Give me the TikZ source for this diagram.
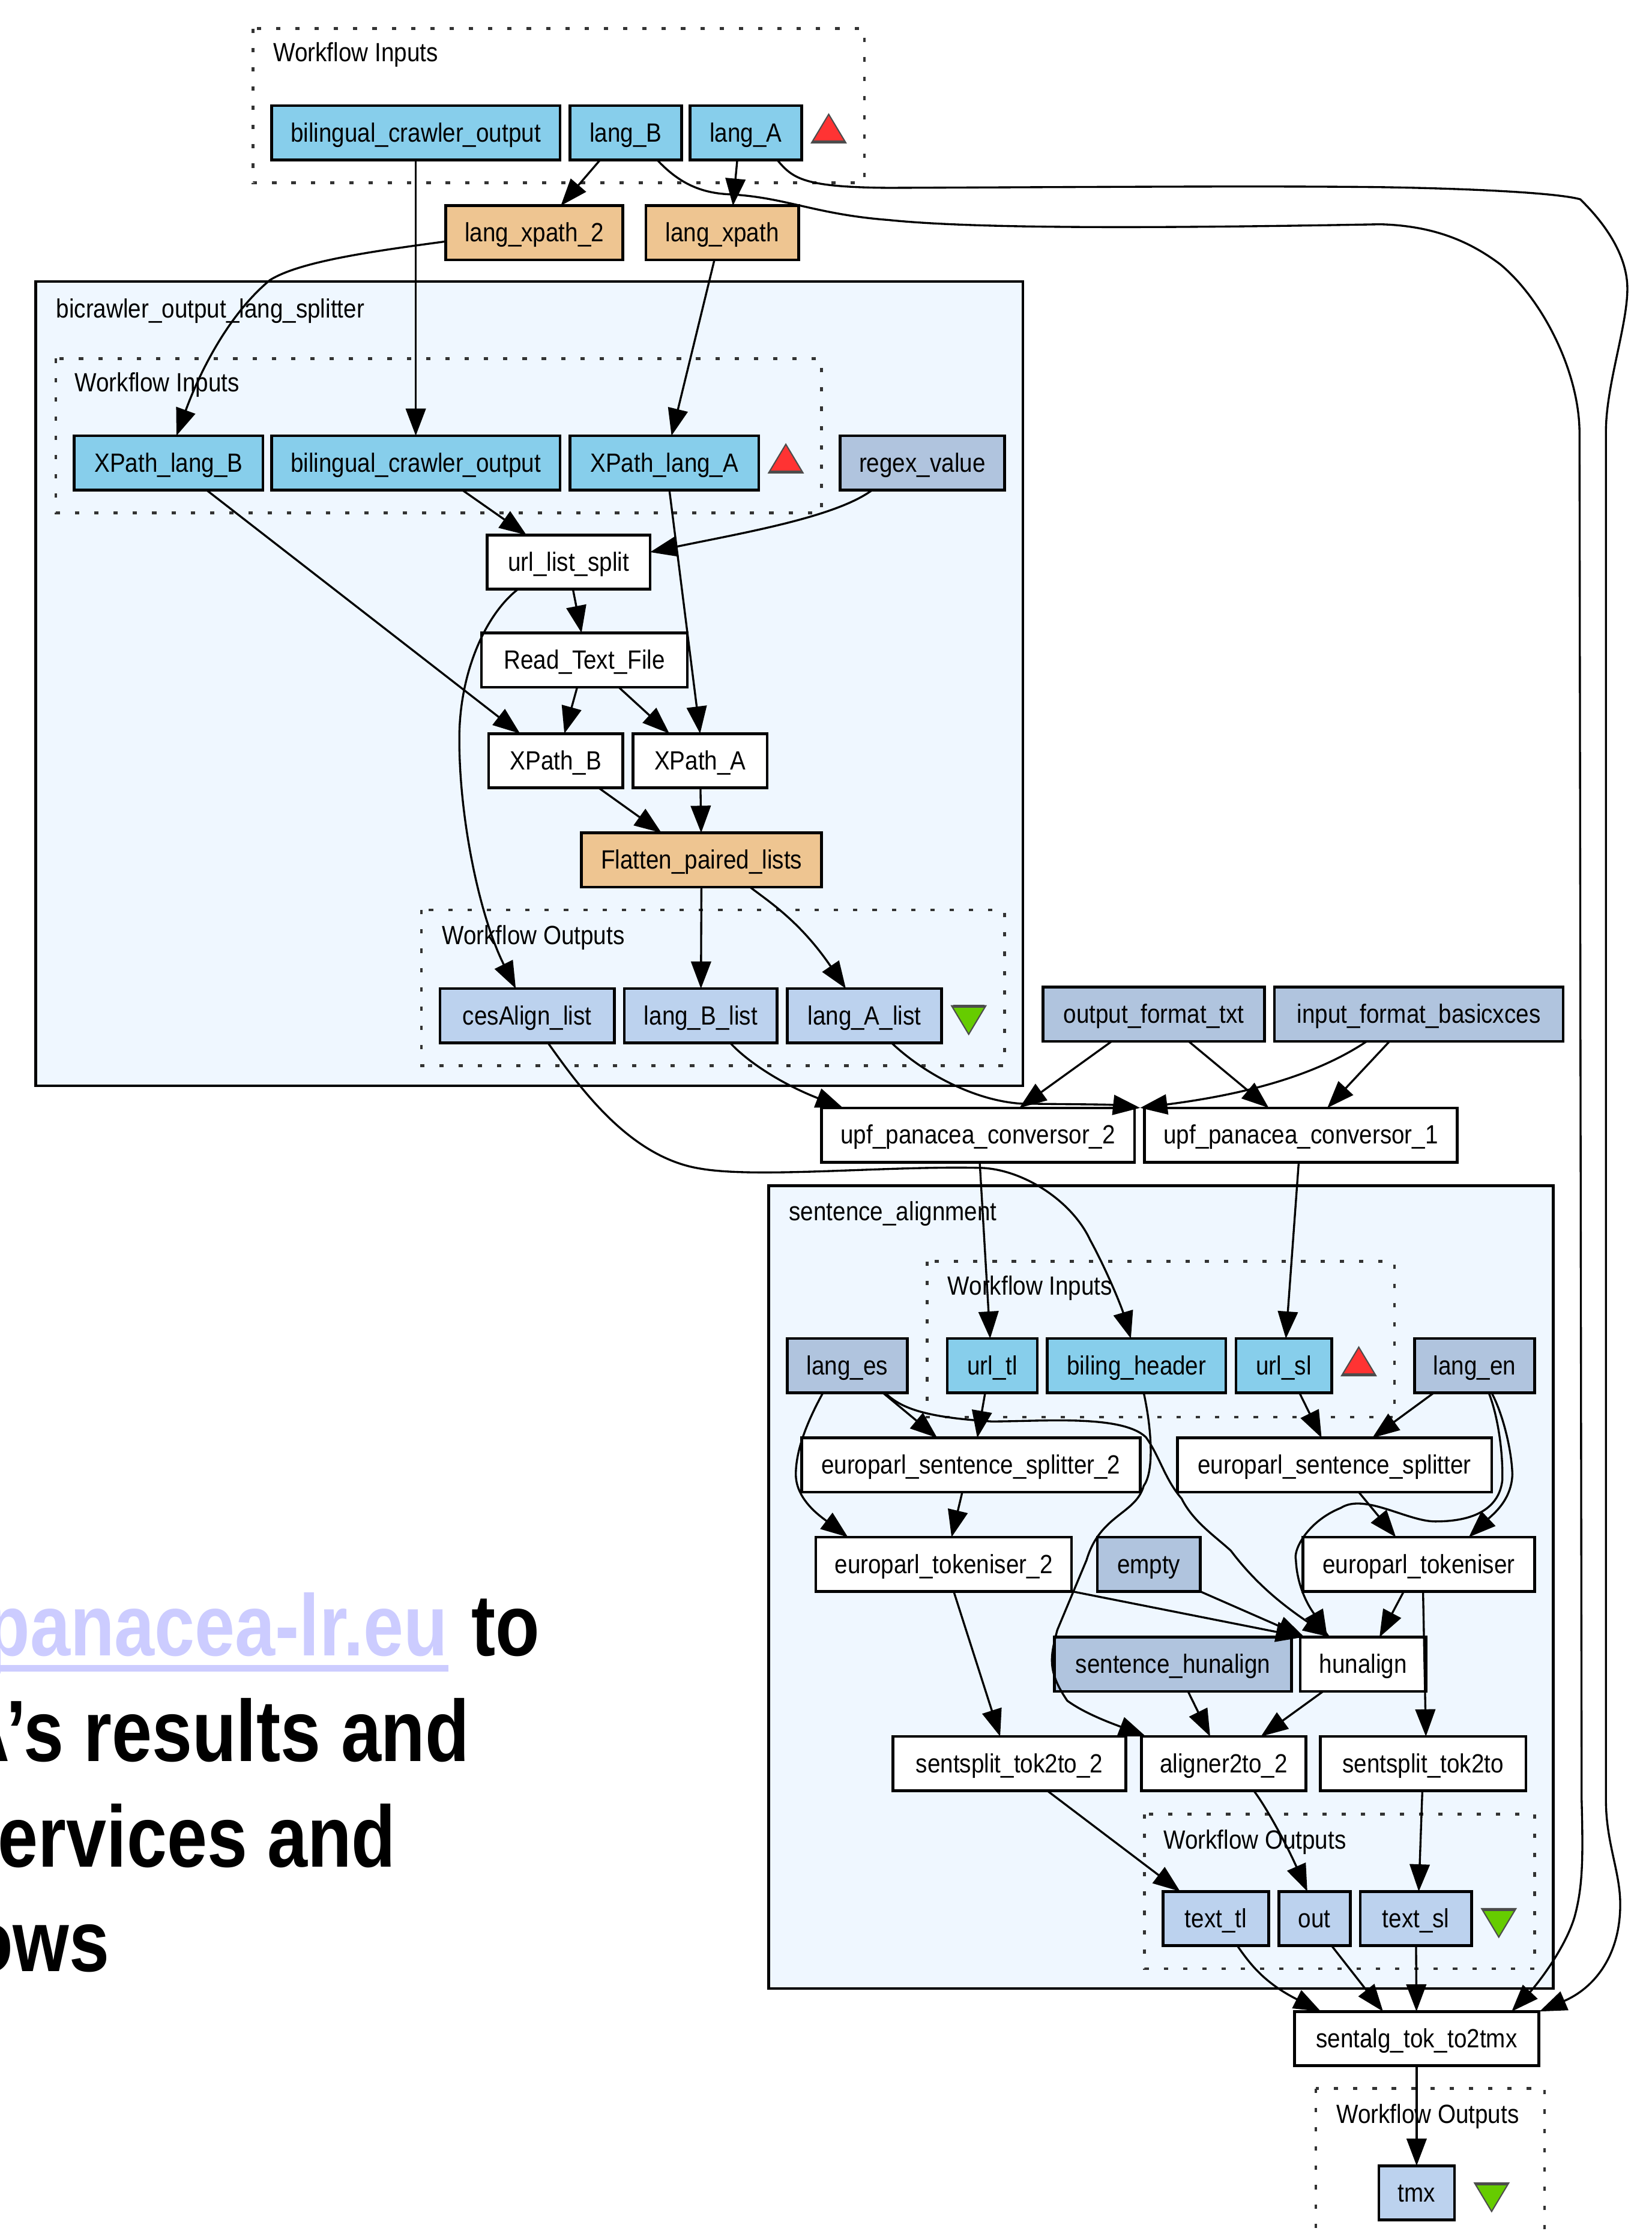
\documentclass[tikz,border=0pt]{standalone}
\usepackage{fontspec}
\usetikzlibrary{arrows.meta}
\newfontfamily\dotfont[FakeStretch=0.88]{Liberation Sans}
\newfontfamily\slidefont[FakeStretch=0.83]{Liberation Sans}
\definecolor{skyfill}{HTML}{87CEEB}
\definecolor{outfill}{HTML}{BCD2EE}
\definecolor{constfill}{HTML}{B0C4DE}
\definecolor{shimfill}{HTML}{EEC591}
\definecolor{wffill}{HTML}{EFF7FF}
\definecolor{linkblue}{HTML}{CCCCFF}
\definecolor{redport}{HTML}{FF3333}
\definecolor{greenport}{HTML}{66CC00}
\tikzset{
	wide/.style={minimum width=#1*0.02cm},
	dx/.style={xshift=#1*0.02cm},
	box/.style={draw=black,line width=1.1pt,minimum height=0.76cm,inner sep=0pt,outer sep=0pt,
		font=\dotfont\fontsize{10.5}{12}\selectfont,text height=0.29cm,text depth=0.04cm},
	indata/.style={box,fill=skyfill},
	outdata/.style={box,fill=outfill},
	constant/.style={box,fill=constfill},
	proc/.style={box,fill=white},
	shim/.style={box,fill=shimfill},
	wfcluster/.style={draw=black,line width=1.1pt,fill=wffill},
	portcluster/.style={draw=black!80,line width=1.1pt,dash pattern=on 0.06cm off 0.21cm},
	clabel/.style={anchor=west,inner sep=0pt,yshift=-0.03cm,font=\dotfont\fontsize{10.5}{12}\selectfont},
	slide/.style={inner sep=0pt,font=\slidefont\bfseries\fontsize{34.7}{40}\selectfont},
	flow/.style={line width=0.8pt,-{Triangle[length=0.38cm,width=0.28cm]}},
	inports/.pic={
		\fill[redport] (-12,10) -- (12,10) -- (0,-10) -- cycle;
		\draw[black!70,line width=0.5pt] (-12,10) -- (12,10) -- (0,-10) -- cycle;
		\draw[black!70,line width=1.2pt] (-11,9.5) -- (11,9.5);
	},
	outports/.pic={
		\fill[greenport] (-12,-10) -- (12,-10) -- (0,10) -- cycle;
		\draw[black!70,line width=0.5pt] (-12,-10) -- (12,-10) -- (0,10) -- cycle;
		\draw[black!70,line width=1.2pt] (-11,-9.5) -- (11,-9.5);
	},
}
\begin{document}
\begin{tikzpicture}[x=0.02cm,y=-0.02cm]
	\useasboundingbox (0,0) rectangle (1156,1568);
	% clusters
	\draw[portcluster] (177,20) rectangle (605,128);
	\draw[wfcluster] (25,197) rectangle (716,760);
	\draw[portcluster] (39,251) rectangle (575,359);
	\draw[portcluster] (295,637) rectangle (703,746);
	\draw[wfcluster] (538,830) rectangle (1087,1392);
	\draw[portcluster] (649,883) rectangle (976,992);
	\draw[portcluster] (801,1270) rectangle (1074,1378);
	\draw[portcluster] (921,1462) rectangle (1081,1600);
	\node[clabel] (top_in_label) at (191,37) {Workflow Inputs};
	\node[clabel] (split_label) at (39,216) {bicrawler\_output\_lang\_splitter};
	\node[clabel] (split_in_label) at (52,268) {Workflow Inputs};
	\node[clabel] (split_out_label) at (309,655) {Workflow Outputs};
	\node[clabel] (align_label) at (552,848) {sentence\_alignment};
	\node[clabel] (align_in_label) at (663,900) {Workflow Inputs};
	\node[clabel] (align_out_label) at (814,1288) {Workflow Outputs};
	\node[clabel] (top_out_label) at (935,1480) {Workflow Outputs};
	% workflow top
	\node[indata,wide=202] (top_bilingual) at (291,93) {bilingual\_crawler\_output};
	\node[indata,wide=78] (lang_B) at (438,93) {lang\_B};
	\node[indata,wide=78] (lang_A) at (522,93) {lang\_A};
	\node[shim,wide=124] (lang_xpath_2) at (374,163) {lang\_xpath\_2};
	\node[shim,wide=107] (lang_xpath) at (505.5,163) {lang\_xpath};
	% bicrawler_output_lang_splitter
	\node[indata,wide=132] (xpath_lang_B) at (118,324) {XPath\_lang\_B};
	\node[indata,wide=202] (split_bilingual) at (291,324) {bilingual\_crawler\_output};
	\node[indata,wide=132] (xpath_lang_A) at (465,324) {XPath\_lang\_A};
	\node[constant,wide=115] (regex_value) at (645.5,324) {regex\_value};
	\node[proc,wide=114] (url_list_split) at (398,393.5) {url\_list\_split};
	\node[proc,wide=144] (read_text) at (409,462) {Read\_Text\_File};
	\node[proc,wide=94] (xpath_B) at (389,532.5) {XPath\_B};
	\node[proc,wide=94] (xpath_A) at (490,532.5) {XPath\_A};
	\node[shim,wide=168] (flatten) at (491,602) {Flatten\_paired\_lists};
	\node[outdata,wide=122] (cesalign) at (369,711) {cesAlign\_list};
	\node[outdata,wide=107] (lang_B_list) at (490.5,711) {lang\_B\_list};
	\node[outdata,wide=108] (lang_A_list) at (605,711) {lang\_A\_list};
	% conversors
	\node[constant,wide=155] (output_format) at (807.5,710) {output\_format\_txt};
	\node[constant,wide=202] (input_format) at (993,710) {input\_format\_basicxces};
	\node[proc,wide=219] (conversor_2) at (684.5,794.5) {upf\_panacea\_conversor\_2};
	\node[proc,wide=219] (conversor_1) at (910.5,794.5) {upf\_panacea\_conversor\_1};
	% sentence_alignment
	\node[constant,wide=84] (lang_es) at (593,956) {lang\_es};
	\node[indata,wide=63] (url_tl) at (694.5,956) {url\_tl};
	\node[indata,wide=125] (biling_header) at (795.5,956) {biling\_header};
	\node[indata,wide=67] (url_sl) at (898.5,956) {url\_sl};
	\node[constant,wide=84] (lang_en) at (1032,956) {lang\_en};
	\node[proc,wide=237] (splitter_2) at (679.5,1025.5) {europarl\_sentence\_splitter\_2};
	\node[proc,wide=220] (splitter) at (934,1025.5) {europarl\_sentence\_splitter};
	\node[proc,wide=179] (tokeniser_2) at (660.5,1095) {europarl\_tokeniser\_2};
	\node[constant,wide=72] (empty) at (804,1095) {empty};
	\node[proc,wide=162] (tokeniser) at (993,1095) {europarl\_tokeniser};
	\node[constant,wide=166] (sentence_hunalign) at (821,1165) {sentence\_hunalign};
	\node[proc,wide=88] (hunalign) at (954,1165) {hunalign};
	\node[proc,wide=163] (sentsplit_2) at (706.5,1234.5) {sentsplit\_tok2to\_2};
	\node[proc,wide=115] (aligner) at (856.5,1234.5) {aligner2to\_2};
	\node[proc,wide=144] (sentsplit) at (996,1234.5) {sentsplit\_tok2to};
	\node[outdata,wide=74] (text_tl) at (851,1343) {text\_tl};
	\node[outdata,wide=50] (out) at (920,1343) {out};
	\node[outdata,wide=78] (text_sl) at (991,1343) {text\_sl};
	% workflow bottom
	\node[proc,wide=171] (sentalg) at (991.5,1427) {sentalg\_tok\_to2tmx};
	\node[outdata,wide=53] (tmx) at (991.5,1535) {tmx};
	% port triangles
	\pic at (580,90) {inports};
	\pic at (550,321) {inports};
	\pic at (951,953) {inports};
	\pic at (678,714) {outports};
	\pic at (1049,1346) {outports};
	\pic at (1044,1538) {outports};
	% links top
	\draw[flow] (top_bilingual) -- (split_bilingual);
	\draw[flow] ([dx=-18]lang_B.south) -- ([dx=18.5]lang_xpath_2.north);
	\draw[flow] ([dx=-6]lang_A.south) -- ([dx=7.5]lang_xpath.north);
	\draw[flow] ([dx=22]lang_B.south) .. controls (475,128) and (490,135) .. (510,136)
		.. controls (550,138) and (570,150) .. (622,154) .. controls (680,160) and (800,160) .. (966,157)
		.. controls (1005,158) and (1030,170) .. (1050,185) .. controls (1080,210) and (1105,260) .. (1105.5,302)
		-- (1107,1260) .. controls (1108,1300) and (1108,1320) .. (1102,1342)
		.. controls (1095,1365) and (1075,1390) .. ([dx=66.5]sentalg.north);
	\draw[flow] ([dx=22]lang_A.south) .. controls (555,125) and (562,131) .. (622,131.5)
		.. controls (750,131) and (880,130) .. (966,131) .. controls (1030,132) and (1090,135) .. (1106,139.5)
		.. controls (1125,158) and (1139,180) .. (1139,202) .. controls (1139,228) and (1124,270) .. (1124,302)
		-- (1124,1260) .. controls (1124,1290) and (1134,1310) .. (1134,1333)
		.. controls (1134,1370) and (1115,1392) .. ([dx=86]sentalg.north);
	\draw[flow] ([yshift=-0.12cm]lang_xpath_2.west) .. controls (260,176) and (210,183) .. (189,196)
		.. controls (160,220) and (140,260) .. ([dx=5.5]xpath_lang_B.north);
	\draw[flow] ([dx=-5.5]lang_xpath.south) -- ([dx=5]xpath_lang_A.north);
	% links bicrawler_output_lang_splitter
	\draw[flow] ([dx=26.5]xpath_lang_B.south) -- ([dx=-25]xpath_B.north);
	\draw[flow] ([dx=32.5]split_bilingual.south) -- ([dx=-29.5]url_list_split.north);
	\draw[flow] ([dx=3.5]xpath_lang_A.south) -- (xpath_A.north);
	\draw[flow] ([dx=-35]regex_value.south) .. controls (585,362) and (520,373) .. ([yshift=0.14cm]url_list_split.east);
	\draw[flow] ([dx=3]url_list_split.south) -- ([dx=-2]read_text.north);
	\draw[flow] ([dx=-35.5]url_list_split.south) .. controls (340,430) and (322,470) .. (321.5,515)
		.. controls (321,570) and (335,640) .. ([dx=-8]cesalign.north);
	\draw[flow] ([dx=-5]read_text.south) -- ([dx=6]xpath_B.north);
	\draw[flow] ([dx=24]read_text.south) -- ([dx=-21.5]xpath_A.north);
	\draw[flow] ([dx=30]xpath_B.south) -- ([dx=-28]flatten.north);
	\draw[flow] (xpath_A) -- (flatten);
	\draw[flow] (flatten) -- (lang_B_list);
	\draw[flow] ([dx=34]flatten.south) .. controls (538,631) and (560,645) .. ([dx=-13]lang_A_list.north);
	% links to conversors
	\draw[flow] ([dx=20.5]lang_B_list.south) .. controls (525,745) and (550,760) .. ([dx=-94.5]conversor_2.north);
	\draw[flow] ([dx=19]lang_A_list.south) .. controls (645,750) and (680,770) .. (714,772.5)
		.. controls (745,773) and (775,773) .. ([dx=-112.5]conversor_1.north);
	\draw[flow] ([dx=-36.5]input_format.south) .. controls (925,750) and (880,765) .. ([dx=113.5]conversor_2.north);
	\draw[flow] ([dx=-29.5]output_format.south) -- ([dx=29]conversor_2.north);
	\draw[flow] ([dx=24.5]output_format.south) -- ([dx=-22.5]conversor_1.north);
	\draw[flow] ([dx=-20.5]input_format.south) -- ([dx=18.5]conversor_1.north);
	\draw[flow] ([dx=14.5]cesalign.south) .. controls (405,760) and (440,810) .. (490,818)
		.. controls (530,825) and (620,816) .. (685.7,817.5)
		.. controls (715,818) and (750,840) .. (763,868)
		.. controls (775,890) and (785,915) .. ([dx=-4]biling_header.north);
	\draw[flow] ([dx=1.2]conversor_2.south) -- ([dx=-1.5]url_tl.north);
	\draw[flow] ([dx=-1.5]conversor_1.south) -- ([dx=1.5]url_sl.north);
	% links sentence_alignment
	\draw[flow] ([dx=25]lang_es.south) -- ([dx=-23.5]splitter_2.north);
	\draw[flow] ([dx=-17]lang_es.south) .. controls (565,995) and (557,1015) .. (557,1032)
		.. controls (557,1050) and (575,1062) .. ([dx=-67]tokeniser_2.north);
	\draw[flow] ([dx=26.5]lang_es.south) .. controls (630,985) and (645,992) .. (694,995)
		.. controls (730,995) and (785,990) .. (802,1006) .. controls (812,1020) and (815,1035) .. (827,1049)
		.. controls (835,1065) and (850,1075) .. (861.5,1085.5) .. controls (880,1110) and (900,1125) .. ([dx=-23]hunalign.north);
	\draw[flow] ([dx=-5]url_tl.south) -- ([dx=4.5]splitter_2.north);
	\draw[flow] ([dx=11]url_sl.south) -- ([dx=-9]splitter.north);
	\draw[flow] ([dx=-28.5]lang_en.south) -- ([dx=26.5]splitter.north);
	\draw[flow] ([dx=12]lang_en.south) .. controls (1052,990) and (1058,1015) .. (1058.5,1032)
		.. controls (1058,1050) and (1045,1060) .. ([dx=35]tokeniser.north);
	\draw[flow] ([dx=10]lang_en.south) .. controls (1048,990) and (1052,1015) .. (1051.5,1036)
		.. controls (1050,1050) and (1040,1065) .. (1004.5,1065)
		.. controls (985,1065) and (955,1045) .. (938.5,1055.5)
		.. controls (915,1065) and (905,1085) .. (907,1092)
		.. controls (908,1115) and (920,1130) .. ([dx=-25]hunalign.north);
	\draw[flow] ([dx=-6]splitter_2.south) -- ([dx=5.5]tokeniser_2.north);
	\draw[flow] ([dx=17]splitter.south) -- ([dx=-16]tokeniser.north);
	\draw[flow] ([dx=5]biling_header.south) .. controls (806,1000) and (808,1030) .. (800.5,1040)
		.. controls (795,1060) and (770,1060) .. (760.5,1092) -- (740,1141)
		.. controls (735,1160) and (733,1170) .. (747,1190.5)
		.. controls (760,1200) and (780,1207) .. ([dx=-54.5]aligner.north);
	\draw[flow] ([dx=7]tokeniser_2.south) -- ([dx=-6.5]sentsplit_2.north);
	\draw[flow] ([dx=90]tokeniser_2.south) -- ([dx=-42]hunalign.north);
	\draw[flow] ([dx=36]empty.south) -- ([dx=-41]hunalign.north);
	\draw[flow] ([dx=-10.5]tokeniser.south) -- ([dx=11.5]hunalign.north);
	\draw[flow] ([dx=3]tokeniser.south) -- ([dx=2]sentsplit.north);
	\draw[flow] ([dx=10.5]sentence_hunalign.south) -- ([dx=-9.5]aligner.north);
	\draw[flow] ([dx=-28]hunalign.south) -- ([dx=26]aligner.north);
	\draw[flow] ([dx=21]aligner.south) .. controls (885,1263) and (900,1290) .. ([dx=-5]out.north);
	\draw[flow] ([dx=-0.5]sentsplit.south) -- ([dx=2]text_sl.north);
	\draw[flow] ([dx=26.5]sentsplit_2.south) -- ([dx=-25]text_tl.north);
	% links bottom
	\draw[flow] ([dx=15]text_tl.south) .. controls (875,1375) and (885,1388) .. ([dx=-67]sentalg.north);
	\draw[flow] ([dx=12]out.south) -- ([dx=-23.5]sentalg.north);
	\draw[flow] (text_sl) -- (sentalg);
	\draw[flow] (sentalg) -- (tmx);
	% slide text under the diagram
	\node[slide,anchor=base east,text=linkblue] (site_link) at (314,1159) {panacea-lr.eu};
	\fill[linkblue] (-5,1165.5) rectangle (314,1170);
	\node[slide,anchor=base west] (slide_to) at (329.5,1159) {to};
	\node[slide,anchor=base east] (slide_results) at (329,1233) {A’s results and};
	\node[slide,anchor=base east] (slide_services) at (277.5,1307) {ervices and};
	\node[slide,anchor=base east] (slide_flows) at (77,1380) {ows};
\end{tikzpicture}
\end{document}
